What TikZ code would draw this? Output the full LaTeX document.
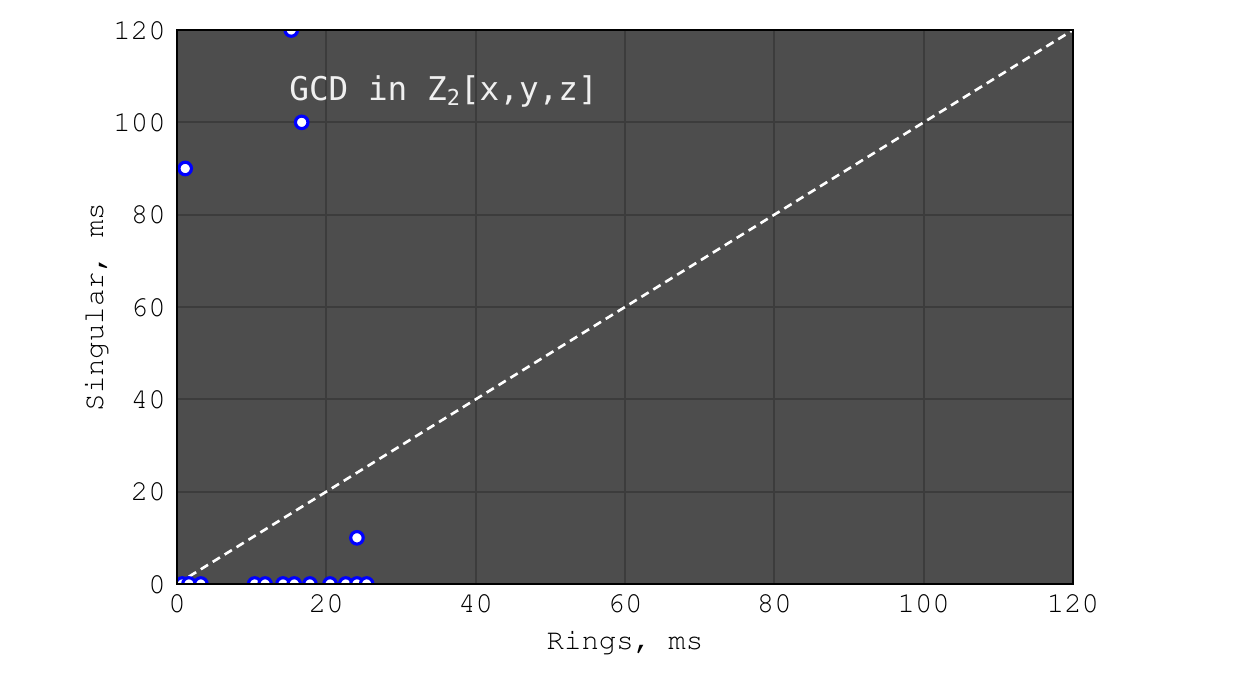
\documentclass[tikz,border=0pt]{standalone}
\usepackage[T1]{fontenc}
\usepackage{fontspec}
\newfontfamily\titlefont{DejaVu Sans Mono}
\newcommand\courierfont{\fontencoding{T1}\fontfamily{pcr}\fontseries{m}\fontshape{n}\fontsize{16.5}{19}\selectfont}
\newcommand\heavytxt[1]{\special{pdf:content 2 Tr 0.45 w}#1\special{pdf:content 0 Tr}}
\begin{document}
\begin{tikzpicture}[
  pt/.style={circle, draw=blue, fill=white, line width=1.8pt, minimum size=0.25cm, inner sep=0pt},
  ticklab/.style={font=\courierfont, text=black, inner sep=0pt},
  axlab/.style={font=\courierfont, text=black, inner sep=0pt},
  frameline/.style={draw=black, line width=1.2pt},
  diag/.style={draw=white, line width=1.5pt, dash pattern=on 0.17cm off 0.11cm}
]
\definecolor{plotbg}{RGB}{77,77,77}
\definecolor{gridc}{RGB}{60,60,60}
\useasboundingbox (0,0) rectangle (25,13.78);
\begin{scope}[shift={(3.54,2.10)}, x=0.149333cm, y=0.092333cm]
  \fill[plotbg] (0,0) rectangle (120,120);
  \foreach \v in {20,40,60,80,100} {
    \draw[draw=gridc, line width=1.0pt] (\v,0) -- (\v,120);
    \draw[draw=gridc, line width=1.0pt] (0,\v) -- (120,\v);
  }
  \coordinate (o) at (0,0);
  \coordinate (e) at (120,120);
  \draw[diag] (o) -- (e);
  \begin{scope}
    \clip (0,0) rectangle (120,120);
    \foreach \x/\y [count=\i] in {0.7/0,1.6/0,3.2/0,10.4/0,11.8/0,14.2/0,15.7/0,17.8/0,20.5/0,22.6/0,24.1/0,25.4/0,15.3/120,16.7/100,1.1/90,24.1/10} {
      \node[pt] (p\i) at (\x,\y) {};
    }
  \end{scope}
  \draw[frameline] (0,0) rectangle (120,120);
  \foreach \v in {0,20,40,60,80,100,120} {
    \node[ticklab, anchor=base] (xt\v) at (\v,0) [yshift=-0.57cm] {\heavytxt{\v}};
    \node[ticklab, anchor=east] (yt\v) at (0,\v) [xshift=-0.22cm] {\heavytxt{\v}};
  }
  \node[anchor=base west, inner sep=0pt, text=white!94!black, font=\titlefont\fontsize{18.6}{22}\selectfont] (title) at (15.0,104.7) {GCD in Z\raisebox{-0.25ex}{\fontsize{12.5}{15}\selectfont 2}[x,y,z]};
\end{scope}
\node[axlab, anchor=base] (xlab) at (12.5,0.78) {\heavytxt{Rings, ms}};
\node[axlab, anchor=base, rotate=90] (ylab) at (2.06,7.64) {\heavytxt{Singular, ms}};
\end{tikzpicture}
\end{document}
